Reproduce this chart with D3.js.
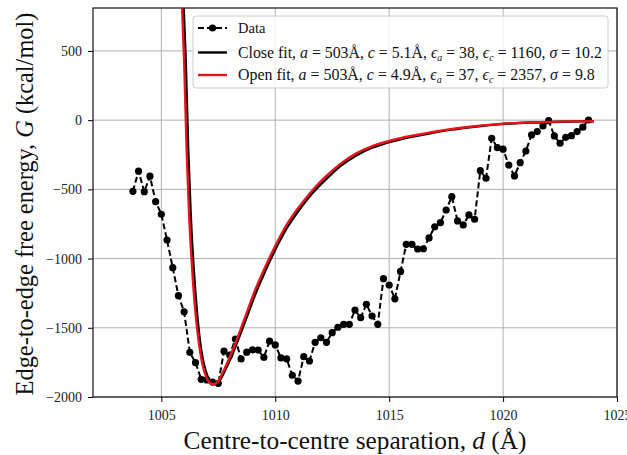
<!DOCTYPE html>
<html><head><meta charset="utf-8">
<script src="https://cdn.jsdelivr.net/npm/d3@7"></script>
<style>body{margin:0;background:#fff}svg{display:block}text{font-family:"Liberation Serif","DejaVu Serif",serif;white-space:pre}</style>
</head><body><svg id="c" width="627" height="455"></svg>
<script>
const dist = [1003.75,1004.0,1004.25,1004.5,1004.75,1005.0,1005.25,1005.5,1005.75,1006.0,1006.25,1006.5,1006.75,1007.0,1007.25,1007.5,1007.75,1008.0,1008.25,1008.5,1008.75,1009.0,1009.25,1009.5,1009.75,1010.0,1010.25,1010.5,1010.75,1011.0,1011.25,1011.5,1011.75,1012.0,1012.25,1012.5,1012.75,1013.0,1013.25,1013.5,1013.75,1014.0,1014.25,1014.5,1014.75,1015.0,1015.25,1015.5,1015.75,1016.0,1016.25,1016.5,1016.75,1017.0,1017.25,1017.5,1017.75,1018.0,1018.25,1018.5,1018.75,1019.0,1019.25,1019.5,1019.75,1020.0,1020.25,1020.5,1020.75,1021.0,1021.25,1021.5,1021.75,1022.0,1022.25,1022.5,1022.75,1023.0,1023.25,1023.5,1023.75];
const energy = [-514,-369,-517,-405,-589,-680,-866,-1066,-1268,-1385,-1677,-1752,-1872,-1877,-1892,-1901,-1669,-1697,-1581,-1725,-1676,-1659,-1661,-1713,-1597,-1624,-1718,-1725,-1843,-1885,-1709,-1740,-1605,-1572,-1605,-1535,-1496,-1475,-1475,-1372,-1427,-1330,-1415,-1475,-1145,-1191,-1291,-1093,-897,-897,-931,-929,-851,-770,-741,-649,-553,-728,-757,-685,-716,-365,-420,-131,-199,-210,-324,-403,-307,-223,-107,-83,-42,-4,-114,-167,-124,-112,-83,-51,1];

const closeFitD = [1005.91,1005.98,1006.07,1006.18,1006.29,1006.42,1006.55,1006.68,1006.81,1006.95,1007.08,1007.21,1007.34,1007.47,1007.60,1007.77,1008.00,1008.31,1008.75,1009.19,1009.63,1010.07,1010.51,1010.95,1011.38,1011.82,1012.26,1012.90,1013.56,1014.22,1014.88,1015.54,1016.64,1017.74,1018.84,1019.93,1021.21,1022.53,1023.98];
const closeFitG = [1085,811,435,-215,-685,-1068,-1357,-1574,-1718,-1812,-1870,-1899,-1906,-1895,-1870,-1816,-1737,-1613,-1422,-1231,-1064,-913,-779,-671,-577,-494,-422,-327,-255,-201,-165,-136,-100,-69,-46,-29,-17,-12,-8];

const openFitD = [1005.85,1005.91,1006.00,1006.11,1006.22,1006.35,1006.48,1006.62,1006.75,1006.88,1007.01,1007.14,1007.27,1007.41,1007.54,1007.71,1007.93,1008.24,1008.68,1009.12,1009.56,1010.00,1010.44,1010.88,1011.32,1011.76,1012.20,1012.86,1013.52,1014.18,1014.84,1015.49,1016.59,1017.69,1018.79,1019.89,1021.21,1022.53,1023.98];
const openFitG = [1085,811,435,-215,-685,-1068,-1357,-1574,-1718,-1812,-1870,-1899,-1908,-1899,-1874,-1819,-1740,-1617,-1422,-1227,-1061,-909,-772,-663,-569,-483,-410,-316,-244,-194,-158,-131,-96,-66,-44,-27,-17,-11,-8];

const xTicks = [1005,1010,1015,1020,1025];
const yTicks = [-2000,-1500,-1000,-500,0,500];
const xDomain = [1002,1025];
const yDomain = [-2000,810];

const svg = d3.select("#c");
const L=93, R=617, T=8, B=397;
const x = d3.scaleLinear().domain(xDomain).range([L,R]);
const y = d3.scaleLinear().domain(yDomain).range([B,T]);

svg.append("defs").append("clipPath").attr("id","clip")
  .append("rect").attr("x",L).attr("y",T).attr("width",R-L).attr("height",B-T);

// grid
const grid = svg.append("g").attr("stroke","#b0b0b0").attr("stroke-width",1);
xTicks.forEach(t=>grid.append("line").attr("x1",x(t)).attr("x2",x(t)).attr("y1",T).attr("y2",B));
yTicks.forEach(t=>grid.append("line").attr("y1",y(t)).attr("y2",y(t)).attr("x1",L).attr("x2",R));

const fmt = v => (v<0?"\u2212"+Math.abs(v):String(v));

// axes
const xAxis = svg.append("g").attr("transform",`translate(0,${B})`)
  .call(d3.axisBottom(x).tickValues(xTicks).tickSize(5).tickPadding(8).tickFormat(fmt));
const yAxis = svg.append("g").attr("transform",`translate(${L},0)`)
  .call(d3.axisLeft(y).tickValues(yTicks).tickSize(5).tickPadding(6).tickFormat(fmt));
[xAxis,yAxis].forEach(a=>{
  a.select(".domain").remove();
  a.selectAll("line").attr("stroke","#000").attr("stroke-width",1);
  a.selectAll("text").attr("font-size",14).attr("fill","#222")
   .style("font-family",'"Liberation Serif","DejaVu Serif",serif');
});
svg.append("rect").attr("x",L).attr("y",T).attr("width",R-L).attr("height",B-T)
  .attr("fill","none").attr("stroke","#111").attr("stroke-width",1.2);

const plot = svg.append("g").attr("clip-path","url(#clip)");
const pts = dist.map((d,i)=>[d,energy[i]]);
plot.append("path").datum(pts)
  .attr("d",d3.line().x(d=>x(d[0])).y(d=>y(d[1])))
  .attr("fill","none").attr("stroke","#000").attr("stroke-width",2).attr("stroke-dasharray","6,3");
plot.append("g").selectAll("circle").data(pts).join("circle")
  .attr("cx",d=>x(d[0])).attr("cy",d=>y(d[1])).attr("r",3.6).attr("fill","#000");

const fitLine = d3.line().x(d=>x(d[0])).y(d=>y(d[1])).curve(d3.curveMonotoneX);
plot.append("path").datum(closeFitD.map((d,i)=>[d,closeFitG[i]]))
  .attr("d",fitLine).attr("fill","none").attr("stroke","#000").attr("stroke-width",2.4);
plot.append("path").datum(openFitD.map((d,i)=>[d,openFitG[i]]))
  .attr("d",fitLine).attr("fill","none").attr("stroke","#e8141b").attr("stroke-width",2.4);

// axis labels
function fitText(sel, target){
  const w = sel.node().getComputedTextLength();
  const fs = parseFloat(sel.attr("font-size"));
  sel.attr("font-size", fs*target/w);
}
const xl = svg.append("text").attr("x",(L+R)/2).attr("y",449).attr("text-anchor","middle")
  .attr("font-size",21).attr("fill","#111");
xl.append("tspan").text("Centre-to-centre separation, ");
xl.append("tspan").attr("font-style","italic").text("d");
xl.append("tspan").text(" (Å)");
fitText(xl,343);

const yl = svg.append("text").attr("transform","translate(33,204) rotate(-90)").attr("text-anchor","middle")
  .attr("font-size",21).attr("fill","#111");
yl.append("tspan").text("Edge-to-edge free energy, ");
yl.append("tspan").attr("font-style","italic").text("G");
yl.append("tspan").text(" (kcal/mol)");
fitText(yl,383);

// legend
const leg = svg.append("g");
leg.append("rect").attr("x",193).attr("y",16).attr("width",415).attr("height",72).attr("rx",3)
  .attr("fill","#fff").attr("fill-opacity",0.8).attr("stroke","#cccccc").attr("stroke-width",1);
const hx0=198, hx1=227, tx=238;
const rows = [
  {yc:28, type:"data", segs:[["Data"]]},
  {yc:52.5, type:"line", color:"#000", segs:[["Close fit, "],["a","i"],[" = 503Å, "],["c","i"],[" = 5.1Å, "],["ϵ","i"],["a","s"],[" = 38, "],["ϵ","i"],["c","s"],[" = 1160, "],["σ","i"],[" = 10.2"]], target:365},
  {yc:75, type:"line", color:"#e8141b", segs:[["Open fit, "],["a","i"],[" = 503Å, "],["c","i"],[" = 4.9Å, "],["ϵ","i"],["a","s"],[" = 37, "],["ϵ","i"],["c","s"],[" = 2357, "],["σ","i"],[" = 9.8"]], target:358}
];
rows.forEach(r=>{
  if(r.type==="data"){
    leg.append("line").attr("x1",hx0).attr("x2",hx1).attr("y1",r.yc).attr("y2",r.yc)
      .attr("stroke","#000").attr("stroke-width",2).attr("stroke-dasharray","6,3");
    leg.append("circle").attr("cx",(hx0+hx1)/2).attr("cy",r.yc).attr("r",3.6).attr("fill","#000");
  } else {
    leg.append("line").attr("x1",hx0).attr("x2",hx1).attr("y1",r.yc).attr("y2",r.yc)
      .attr("stroke",r.color).attr("stroke-width",2.4);
  }
  const t = leg.append("text").attr("x",tx).attr("y",r.yc+5).attr("font-size",14.5).attr("fill","#111");
  let shifted=false;
  r.segs.forEach(s=>{
    const sp = t.append("tspan").text(s[0]);
    if(s[1]==="i") sp.attr("font-style","italic");
    if(s[1]==="s"){ sp.attr("font-style","italic").attr("font-size",10).attr("dy",3); shifted=true; }
    else if(shifted){ sp.attr("dy",-3); shifted=false; }
  });
  if(r.target) fitText(t, r.target);
});
</script></body></html>
